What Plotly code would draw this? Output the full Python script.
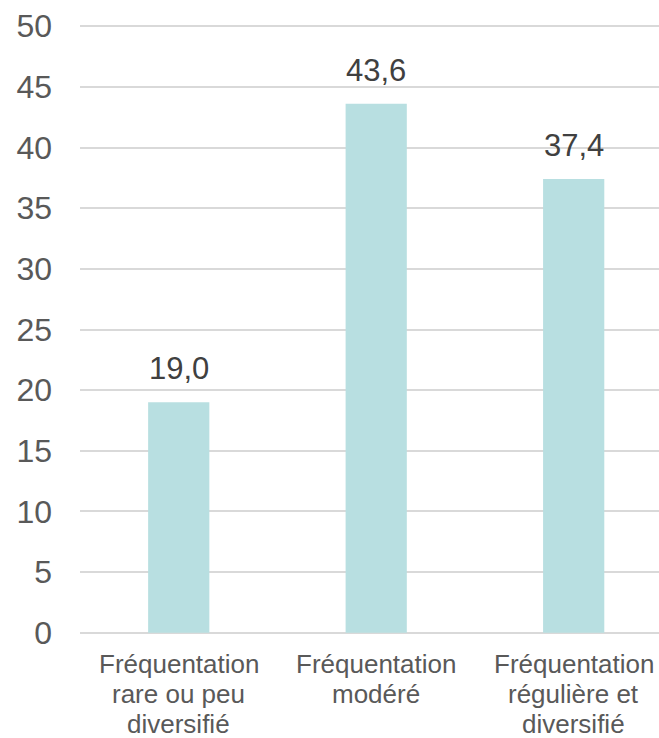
import plotly.graph_objects as go

categories = ["Fréquentation\nrare ou peu\ndiversifié",
              "Fréquentation\nmodéré",
              "Fréquentation\nrégulière et\ndiversifié"]
values = [19.0, 43.6, 37.4]
value_labels = ["19,0", "43,6", "37,4"]
y_ticks = [0, 5, 10, 15, 20, 25, 30, 35, 40, 45, 50]

FONT = "Liberation Sans, Arial"
W, H = 659, 738
M_L, M_R, M_T, M_B = 80, 0, 25, 104
PLOT_H = H - M_T - M_B

fig = go.Figure()
fig.add_trace(go.Bar(
    x=list(range(len(categories))),
    y=values,
    width=0.31,
    marker=dict(color="#b8dfe1", line=dict(width=0)),
    hoverinfo="skip",
))

for i, (v, lab) in enumerate(zip(values, value_labels)):
    fig.add_annotation(x=i, y=v, text=lab, showarrow=False,
                       yanchor="bottom", yshift=14,
                       font=dict(family=FONT, size=31, color="#404040"))

# category labels, one annotation per line (tight line spacing)
for i, cat in enumerate(categories):
    for j, line in enumerate(cat.split("\n")):
        off = 30 + 30 * j
        fig.add_annotation(x=i, xref="x", y=-off / PLOT_H, yref="paper",
                           text=line, showarrow=False, yanchor="middle",
                           font=dict(family=FONT, size=26, color="#595959"))

fig.update_layout(
    width=W, height=H,
    margin=dict(l=M_L, r=M_R, t=M_T, b=M_B),
    paper_bgcolor="white", plot_bgcolor="white",
    showlegend=False,
    font=dict(family=FONT, color="#595959"),
    xaxis=dict(
        range=[-0.5, 2.432],
        tickmode="array",
        tickvals=list(range(len(categories))),
        showticklabels=False,
        showgrid=False, zeroline=False, showline=False, ticks="",
        fixedrange=True,
    ),
    yaxis=dict(
        range=[-0.1, 50.1],
        tickmode="array",
        tickvals=y_ticks,
        ticktext=[str(t) for t in y_ticks],
        tickfont=dict(size=32, color="#595959"),
        showgrid=True, gridcolor="#d9d9d9", gridwidth=1.5,
        zeroline=False, showline=False, ticks="",
        ticklabelstandoff=27,
        fixedrange=True,
    ),
)

fig.write_html("out.html", config={"displayModeBar": False},
               post_script="document.body.style.margin='0';document.body.style.overflow='hidden';")
